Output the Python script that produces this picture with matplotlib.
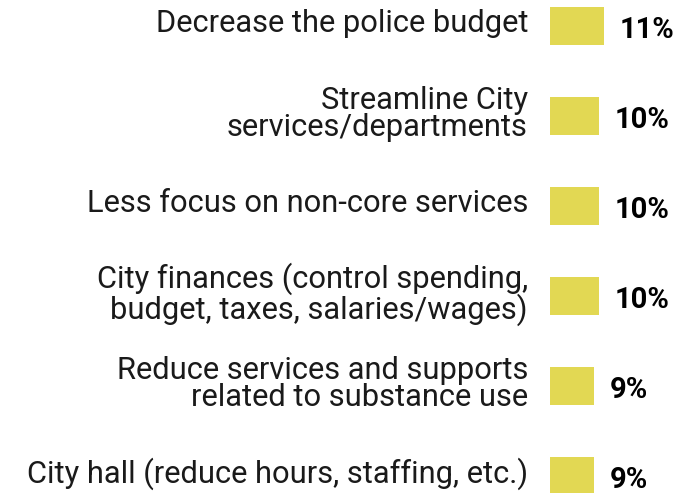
import matplotlib
matplotlib.use("Agg")
import matplotlib.pyplot as plt

categories = [
    "Decrease the police budget",
    "Streamline City\nservices/departments",
    "Less focus on non-core services",
    "City finances (control spending,\nbudget, taxes, salaries/wages)",
    "Reduce services and supports\nrelated to substance use",
    "City hall (reduce hours, staffing, etc.)",
]
values = [11, 10, 10, 10, 9, 9]
value_labels = ["11%", "10%", "10%", "10%", "9%", "9%"]

W, H = 676, 493
fig = plt.figure(figsize=(W / 100, H / 100), dpi=100)
ax = fig.add_axes([0, 0, 1, 1])

px_per_unit = 4.9
x0_px = 550
ax.set_xlim(-x0_px / px_per_unit, (W - x0_px) / px_per_unit)
row_px = 90
top_px = 26
ax.set_ylim((H - top_px) / row_px, -top_px / row_px)

ypos = list(range(len(categories)))
ax.barh(ypos, values, height=0.42, color="#e2d853", linewidth=0)

for y, cat, v, lab in zip(ypos, categories, values, value_labels):
    ax.annotate(cat, xy=(0, y), xytext=(-22, 2), textcoords="offset pixels",
                ha="right", va="center", fontsize=22.2, family="Roboto",
                color="#1a1a1a", linespacing=0.93)
    ax.annotate(lab, xy=(v, y), xytext=(16, -4), textcoords="offset pixels",
                ha="left", va="center", fontsize=21, family="Roboto",
                fontweight="bold", color="#000000")

ax.axis("off")
fig.savefig("out.png", dpi=100)
